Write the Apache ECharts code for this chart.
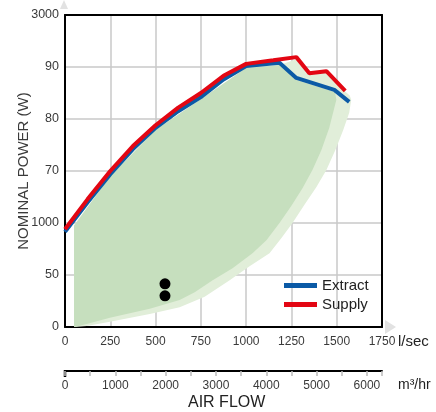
<!DOCTYPE html>
<html>
<head>
<meta charset="utf-8">
<script src="https://cdn.jsdelivr.net/npm/echarts@6/dist/echarts.min.js"></script>
<style>
  html, body { margin: 0; padding: 0; background: #fff; }
  #chart_box { width: 436px; height: 412px; }
</style>
</head>
<body>
<div id="chart_box"></div>
<script>
// y tick labels as printed on the original (one per grid line, bottom to top)
var yTickLabels = ['0', '50', '1000', '70', '80', '90', '3000'];

// Supply curve (l/sec, power in grid units)
var supplyX = [0, 125, 250, 375, 500, 625, 750, 875, 1000, 1150, 1277, 1349, 1443, 1547];
var supplyY = [18.8, 24.6, 30.0, 34.8, 38.8, 42.2, 45.0, 48.3, 50.6, 51.3, 51.9, 48.8, 49.2, 45.4];

// Extract curve
var extractX = [0, 125, 250, 375, 500, 625, 750, 875, 1000, 1184, 1277, 1487, 1569];
var extractY = [18.3, 24.0, 29.4, 34.2, 38.3, 41.5, 44.2, 47.6, 50.2, 50.8, 47.9, 45.6, 43.3];

// operating envelope, outer (light) and inner (dark)
var envelopeLight = [[50, 0], [50, 19.5], [250, 29.0], [500, 37.9], [750, 43.8], [1000, 49.8],
  [1184, 50.4], [1277, 51.5], [1349, 48.5], [1443, 48.9], [1540, 45.5], [1572, 44.5],
  [1580, 43.7], [1569, 41.2], [1536, 37.9], [1492, 34.0], [1443, 30.2], [1388, 26.9],
  [1322, 23.5], [1256, 20.0], [1195, 17.1], [1129, 14.2], [1019, 11.7], [909, 9.0],
  [771, 5.8], [633, 3.8], [468, 2.5], [248, 1.0], [120, 0.2]];
var envelopeDark = [[50, 0], [50, 19.5], [250, 29.0], [500, 37.9], [750, 43.8], [1000, 49.8],
  [1184, 50.4], [1277, 47.5], [1490, 45.2], [1498, 43.7], [1459, 38.3], [1415, 34.0],
  [1366, 30.2], [1311, 26.7], [1250, 23.3], [1184, 20.0], [1112, 16.7], [1035, 14.2],
  [925, 11.3], [815, 9.0], [716, 6.7], [633, 5.2], [468, 3.5], [248, 1.8], [120, 0.6]];

// two measured points
var dotsX = [552, 552];
var dotsY = [8.3, 6.0];

var m3hTicksMax = 6300;

function pairs(xs, ys) {
  var out = [];
  for (var i = 0; i < xs.length; i++) out.push([xs[i], ys[i]]);
  return out;
}

function polygonSeries(points, color) {
  return {
    type: 'custom',
    xAxisIndex: 0,
    yAxisIndex: 0,
    silent: true,
    data: [[0, 0]],
    encode: { x: 0, y: 1 },
    renderItem: function (params, api) {
      var pts = [];
      for (var i = 0; i < points.length; i++) pts.push(api.coord(points[i]));
      return { type: 'polygon', shape: { points: pts }, style: { fill: color } };
    }
  };
}

var labelFont = 'Liberation Sans, Arial, sans-serif';
var gridColor = '#c8c8c8';

var myEcharts = echarts.init(document.getElementById('chart_box'));
var option = {
  animation: false,
  grid: { left: 65, right: 54, top: 15, bottom: 85, containLabel: false, outerBoundsMode: 'none' },
  legend: {
    data: ['Extract', 'Supply'],
    orient: 'vertical',
    left: 279,
    top: 273,
    icon: 'rect',
    itemWidth: 33,
    itemHeight: 5,
    itemGap: 4,
    textStyle: { color: '#222', fontSize: 15, fontFamily: labelFont }
  },
  xAxis: [
    {
      type: 'value', min: 0, max: 1750, interval: 250, position: 'bottom',
      axisLine: { show: true, onZero: false, lineStyle: { color: '#000', width: 2 } },
      axisTick: { show: false },
      axisLabel: { color: '#3a3a3a', fontSize: 12, fontFamily: labelFont, margin: 9,
        formatter: function (v) { return String(v); } },
      splitLine: { show: true, lineStyle: { color: gridColor, width: 1.5 } }
    },
    {
      type: 'value', min: 0, max: m3hTicksMax, interval: 500, position: 'bottom', offset: 44,
      axisLine: { show: true, onZero: false, lineStyle: { color: '#000', width: 2 } },
      axisTick: { show: true, inside: false, length: 5, lineStyle: { color: '#bbb', width: 1.5 } },
      axisLabel: {
        color: '#3a3a3a', fontSize: 12, fontFamily: labelFont, margin: 9,
        formatter: function (v) { return v % 1000 === 0 ? String(v) : ''; }
      },
      splitLine: { show: false }
    },
    {
      type: 'value', min: 0, max: 1750, position: 'top',
      axisLine: { show: true, onZero: false, lineStyle: { color: '#000', width: 2 } },
      axisTick: { show: false }, axisLabel: { show: false }, splitLine: { show: false }
    }
  ],
  yAxis: [
    {
      type: 'value', min: 0, max: 60, interval: 10,
      name: 'NOMINAL POWER (W)', nameLocation: 'middle', nameGap: 34, nameMoveOverlap: false,
      nameTextStyle: { color: '#3a3a3a', fontSize: 15, fontFamily: labelFont },
      axisLine: { show: true, onZero: false, lineStyle: { color: '#000', width: 2 } },
      axisTick: { show: false },
      axisLabel: {
        color: '#3a3a3a', fontSize: 12.5, fontFamily: labelFont, margin: 6,
        formatter: function (v) { return yTickLabels[Math.round(v / 10)]; }
      },
      splitLine: { show: true, lineStyle: { color: gridColor, width: 1.5 } }
    },
    {
      type: 'value', min: 0, max: 60, position: 'right',
      axisLine: { show: true, onZero: false, lineStyle: { color: '#000', width: 2 } },
      axisTick: { show: false }, axisLabel: { show: false }, splitLine: { show: false }
    }
  ],
  graphic: [
    { type: 'polygon', shape: { points: [[60, 9], [64, 0], [68, 9]] }, style: { fill: '#e2e2e2' } },
    { type: 'polygon', shape: { points: [[385, 320], [396, 327], [385, 334]] }, style: { fill: '#e2e2e2' } },
    { type: 'line', shape: { x1: 65, y1: 370, x2: 65, y2: 377 }, style: { stroke: '#000', lineWidth: 2.5 } },
    { type: 'text', left: 398, top: 334, style: { text: 'l/sec', fill: '#222', fontSize: 15, fontFamily: labelFont } },
    { type: 'text', left: 398, top: 378, style: { text: 'm³/hr', fill: '#222', fontSize: 14, fontFamily: labelFont } },
    { type: 'text', left: 188, top: 395, style: { text: 'AIR FLOW', fill: '#222', fontSize: 16, fontFamily: labelFont } }
  ],
  series: [
    polygonSeries(envelopeLight, '#e1eed9'),
    polygonSeries(envelopeDark, '#c6dfbe'),
    {
      name: 'Extract', type: 'line', xAxisIndex: 0, yAxisIndex: 0,
      data: pairs(extractX, extractY), showSymbol: false, symbol: 'none',
      lineStyle: { color: '#0b5aa6', width: 4 }, itemStyle: { color: '#0b5aa6' }
    },
    {
      name: 'Supply', type: 'line', xAxisIndex: 0, yAxisIndex: 0,
      data: pairs(supplyX, supplyY), showSymbol: false, symbol: 'none',
      lineStyle: { color: '#e30613', width: 4 }, itemStyle: { color: '#e30613' }
    },
    {
      type: 'scatter', xAxisIndex: 0, yAxisIndex: 0,
      data: pairs(dotsX, dotsY), symbolSize: 11,
      itemStyle: { color: '#000', opacity: 1 }
    }
  ]
};
myEcharts.setOption(option);
</script>
</body>
</html>
